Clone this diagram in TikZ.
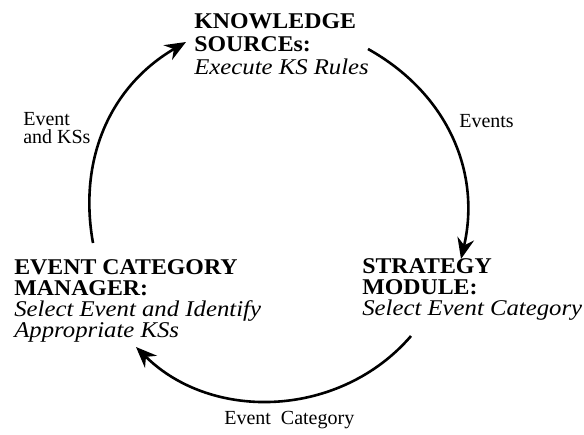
\documentclass[tikz,border=0pt]{standalone}
\usepackage{fontspec}
\setmainfont{Liberation Serif}
\newfontfamily\headfont{Liberation Serif}[FakeStretch=1.06]
\newfontfamily\taskfont{Liberation Serif}[FakeStretch=1.1]
\newcommand{\modname}[1]{{\headfont\bfseries #1}}
\newcommand{\modtask}[1]{{\taskfont\itshape #1}}
\usetikzlibrary{arrows.meta}
\begin{document}
\begin{tikzpicture}[x=1pt,y=-1pt,line width=2.6pt,>={Stealth[length=21pt,width=17pt,inset=7pt]},
  main node/.style={rectangle,align=left,inner sep=0pt,anchor=north west,font=\fontsize{22.5}{21}\selectfont},
  flow label/.style={align=left,inner sep=0pt,anchor=north west,font=\fontsize{20}{18.5}\selectfont}]
  \useasboundingbox (0,0) rectangle (584,434);
  % the three modules
  \node[main node,font=\fontsize{22.5}{23}\selectfont] (ks) at (193,12) {\modname{KNOWLEDGE}\\\modname{SOURCEs:}\\\modtask{Execute KS Rules}};
  \node[main node] (sm)  at (361,257) {\modname{STRATEGY}\\\modname{MODULE:}\\\modtask{Select Event Category}};
  \node[main node] (ecm) at (13,258)  {\modname{EVENT CATEGORY}\\\modname{MANAGER:}\\\modtask{Select Event and Identify}\\\modtask{Appropriate KSs}};
  % arc ends
  \coordinate (ecm out) at (93,243);
  \coordinate (ks in)   at (186,42);
  \coordinate (ks out)  at (368,49);
  \coordinate (sm in)   at (461,259);
  \coordinate (sm out)  at (411,336);
  \coordinate (ecm in)  at (136,347);
  \draw[->] (ecm out) to[bend left=35] (ks in);
  \draw[->] (ks out) to[bend left=37] (sm in);
  \draw[->] (sm out) to[bend left=47] (ecm in);
  % labels
  \node[flow label] (l1) at (22,111)  {Event\\and KSs};
  \node[flow label] (l2) at (458,113) {Events};
  \node[flow label] (l3) at (223,410) {Event\ \ Category};
\end{tikzpicture}
\end{document}
